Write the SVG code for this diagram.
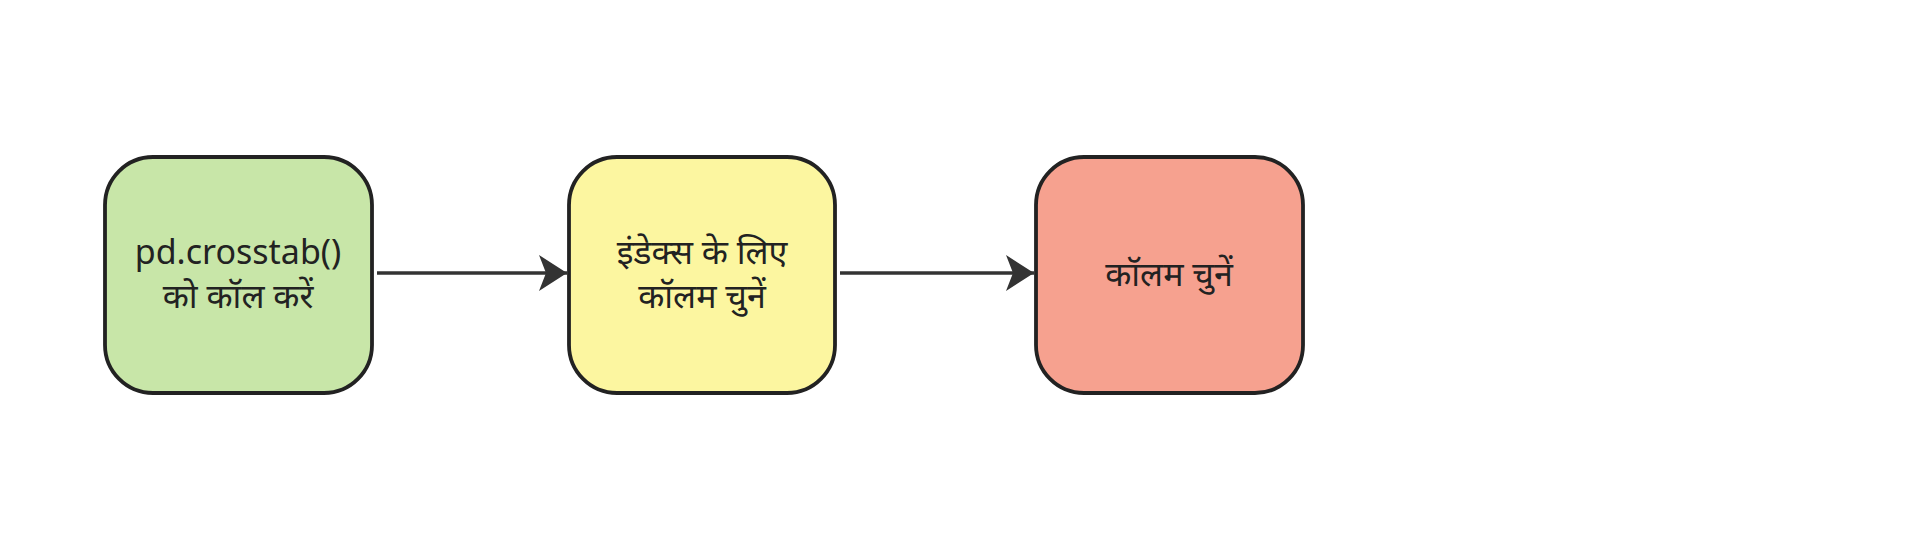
<svg xmlns="http://www.w3.org/2000/svg" width="1912" height="544" viewBox="0 0 1912 544">
<style>
.node rect{stroke:#222;stroke-width:3.8}
.lbl{font-family:"Noto Sans","Open Sans",sans-serif;font-size:34px;fill:#222;text-anchor:middle}
.edge{stroke:#333;stroke-width:3.5;fill:none}
</style>
<defs>
<marker id="ah" markerUnits="userSpaceOnUse" markerWidth="30" markerHeight="36" refX="28" refY="18" orient="auto">
<path d="M0,0 L28,18 L0,36 L7,18 Z" fill="#333"/>
</marker>
</defs>
<rect width="1912" height="544" fill="#ffffff"/>
<g id="connectors">
<line class="edge" x1="377" y1="273" x2="567" y2="273" marker-end="url(#ah)"/>
<line class="edge" x1="840" y1="273" x2="1034" y2="273" marker-end="url(#ah)"/>
</g>
<g id="node1" class="node">
<rect x="105" y="157" width="267" height="236" rx="48" fill="#c8e6a8"/>
<text class="lbl" x="238" y="264">pd.crosstab()</text>
<text class="lbl" x="238" y="308">को कॉल करें</text>
</g>
<g id="node2" class="node">
<rect x="569" y="157" width="266" height="236" rx="48" fill="#fcf6a0"/>
<text class="lbl" x="702" y="264">इंडेक्स के लिए</text>
<text class="lbl" x="702" y="308">कॉलम चुनें</text>
</g>
<g id="node3" class="node">
<rect x="1036" y="157" width="267" height="236" rx="48" fill="#f6a18f"/>
<text class="lbl" x="1169" y="286">कॉलम चुनें</text>
</g>
</svg>
